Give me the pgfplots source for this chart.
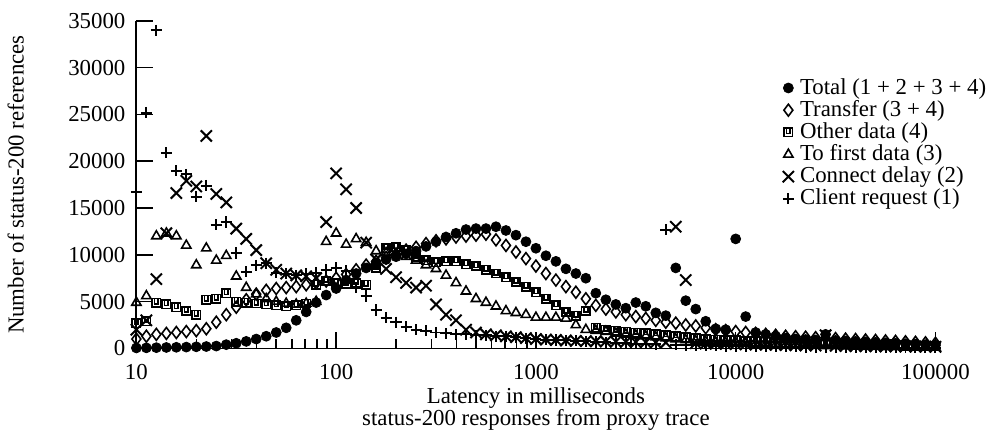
\documentclass[border=0pt]{standalone}
\usepackage{fontspec}
\setmainfont{Liberation Serif}
\usepackage{pgfplots}
\usepackage{pgfplotstable}
\pgfplotsset{compat=1.18}

\pgfdeclareplotmark{squareU}{%
  \pgfpathrectangle{\pgfqpoint{-\pgfplotmarksize}{-\pgfplotmarksize}}{\pgfqpoint{2\pgfplotmarksize}{2\pgfplotmarksize}}%
  \pgfpathmoveto{\pgfqpoint{-0.45\pgfplotmarksize}{\pgfplotmarksize}}%
  \pgfpathlineto{\pgfqpoint{-0.45\pgfplotmarksize}{-0.3\pgfplotmarksize}}%
  \pgfpathlineto{\pgfqpoint{0.45\pgfplotmarksize}{-0.3\pgfplotmarksize}}%
  \pgfpathlineto{\pgfqpoint{0.45\pgfplotmarksize}{\pgfplotmarksize}}%
  \pgfusepathqstroke}

% x: bin centre (ms); T total, D transfer, S other data, F to first data, X connect delay, P client request
\pgfplotstableread{
x T D S F X P
10 50 1000 2700 4900 2000 16700
11.22 60 1300 2900 5600 3000 25200
12.59 80 1500 4900 12000 7400 34000
14.13 100 1600 4700 12300 12300 20900
15.85 120 1700 4400 12000 16600 19000
17.78 140 1800 4000 11000 17900 18600
19.95 170 1900 3600 8900 17300 16200
22.39 200 2100 5200 10700 22700 17400
25.12 250 2800 5300 9400 16500 13200
28.18 400 3600 5900 9900 15600 13500
31.62 550 4400 5000 7700 12800 10200
35.48 750 5200 4900 6500 11700 8200
39.81 1000 5800 4800 5800 10500 8900
44.67 1300 6200 4700 5300 9100 9100
50.12 1700 6400 4600 5000 8400 8100
56.23 2200 6500 4500 4800 8000 8000
63.10 3000 6600 4600 4700 7800 7800
70.79 3900 6800 4800 4800 7700 8000
79.43 4900 7000 6800 5000 7500 8100
89.13 5700 7200 7200 11400 13500 8400
100 6400 7500 7000 12300 18700 8600
112.2 7300 7900 6900 11100 17000 8300
125.9 8000 8400 7000 11700 15000 6500
141.3 8600 8900 6800 11300 11300 5600
158.5 9100 9300 8600 10400 9500 4100
177.8 9500 9700 10700 10200 8500 3300
199.5 9800 10100 10800 10000 7600 2800
223.9 10100 10500 10500 9800 7000 2300
251.2 10400 10800 9800 9400 6500 2000
281.8 10900 11200 9400 8900 6700 1900
316.2 11400 11500 9200 8500 4700 1700
354.8 11900 11700 9300 7800 3600 1600
398.1 12300 11900 9300 7000 3000 1500
446.7 12700 12000 9000 6100 2000 1500
501.2 12800 12100 8800 5300 1700 1400
562.3 12800 12200 8400 4900 1500 1400
631.0 13000 11600 8000 4500 1400 1300
707.9 12600 11000 7600 4000 1300 1300
794.3 12100 10300 7100 3800 1200 1200
891.3 11400 9600 6600 3600 1100 1100
1000 10700 8800 6000 3300 1000 1000
1122 9900 8000 5300 3300 950 950
1259 9300 7300 4600 3300 900 900
1413 8500 6600 3900 3200 850 850
1585 8000 6000 3500 2500 800 800
1778 7500 5300 4000 2000 780 750
1995 5900 4600 2200 1900 760 700
2239 5200 4200 2000 1800 740 650
2512 4700 3900 1900 1600 720 600
2818 4300 3600 1800 1500 700 560
3162 4900 3400 1700 1400 680 520
3548 4500 3200 1600 1300 660 480
3981 3800 3000 1500 1200 640 440
4467 3500 2800 1400 1100 620 12700
5012 8600 2700 1300 1000 13000 400
5623 5100 2500 1200 900 7300 370
6310 4200 2400 1100 800 550 340
7079 2900 2200 1000 700 520 310
7943 2100 2000 950 650 500 280
8913 2000 1900 900 600 480 260
10000 11700 1800 850 550 460 240
11220 3400 1700 800 500 440 220
12590 1700 1600 750 450 420 200
14130 1500 1500 700 400 400 190
15850 1300 1400 650 380 380 180
17780 1100 1300 600 360 360 170
19950 1000 1250 550 340 340 160
22390 950 1200 500 320 320 150
25120 900 1150 480 300 300 140
28180 1500 1100 460 280 1400 130
31620 850 1050 440 260 280 120
35480 800 1000 420 240 260 110
39810 750 950 400 220 250 100
44670 700 900 380 200 240 100
50120 650 850 360 180 230 90
56230 600 800 340 160 220 90
63100 550 750 320 150 210 80
70790 500 700 300 140 200 80
79430 450 650 280 130 190 70
89130 400 600 260 120 180 70
100000 350 550 240 110 170 60
}\data

\begin{document}
\fontsize{11.5}{13}\selectfont
\begin{tikzpicture}
\begin{axis}[
  scale only axis, width=402.5pt, height=165pt,
  xmode=log, xmin=10, xmax=100000, ymin=0, ymax=35000,
  axis x line=bottom, axis y line=left,
  axis line style={-, line width=0.9pt},
  xtick={10,100,1000,10000,100000},
  xticklabels={10,100,1000,10000,100000},
  ytick={0,5000,10000,15000,20000,25000,30000,35000},
  yticklabels={0,5000,10000,15000,20000,25000,30000,35000},
  /pgf/number format/assume math mode=true,
  scaled y ticks=false,
  xticklabel style={yshift=-4pt},
  yticklabel style={xshift=-1.5pt},
  tick align=inside, major tick length=8.5pt, minor tick length=4.5pt,
  tick style={black, line width=0.8pt},
  ylabel={Number of status-200 references},
  ylabel shift=14.5pt,
  xlabel={Latency in milliseconds\\status-200 responses from proxy trace},
  xlabel style={align=center, font=\fontsize{11.5}{11}\selectfont, yshift=4pt},
  clip=false,
  legend style={at={(rel axis cs:0.800,0.845)}, anchor=north west, draw=none, fill=none,
    nodes={inner sep=1.2pt}, row sep=-1pt},
  legend cell align=left,
  legend image code/.code={\draw[#1] plot coordinates {(0pt,0pt)}; \path (-3pt,0pt) (4.5pt,0pt);},
]
\addplot[only marks, mark=*, mark size=2.5pt, black] table[x=x, y=T] {\data};
\addlegendentry{Total (1 + 2 + 3 + 4)}
\addplot[only marks, mark=diamond, mark size=3pt, black, mark options={line width=0.8pt, fill=white}] table[x=x, y=D] {\data};
\addlegendentry{Transfer (3 + 4)}
\addplot[only marks, mark=squareU, mark size=2.1pt, black, mark options={line width=0.8pt, fill=white}] table[x=x, y=S] {\data};
\addlegendentry{Other data (4)}
\addplot[only marks, mark=triangle, mark size=2.7pt, black, mark options={line width=0.8pt, fill=white}] table[x=x, y=F] {\data};
\addlegendentry{To first data (3)}
\addplot[only marks, mark=x, mark size=4pt, black, mark options={line width=1pt}] table[x=x, y=X] {\data};
\addlegendentry{Connect delay (2)}
\addplot[only marks, mark=+, mark size=2.8pt, black, mark options={line width=1pt}] table[x=x, y=P] {\data};
\addlegendentry{Client request (1)}
\path (rel axis cs:-0.1615,-0.2545) rectangle (rel axis cs:1.0845,1.0636);
\end{axis}
\end{tikzpicture}
\end{document}
